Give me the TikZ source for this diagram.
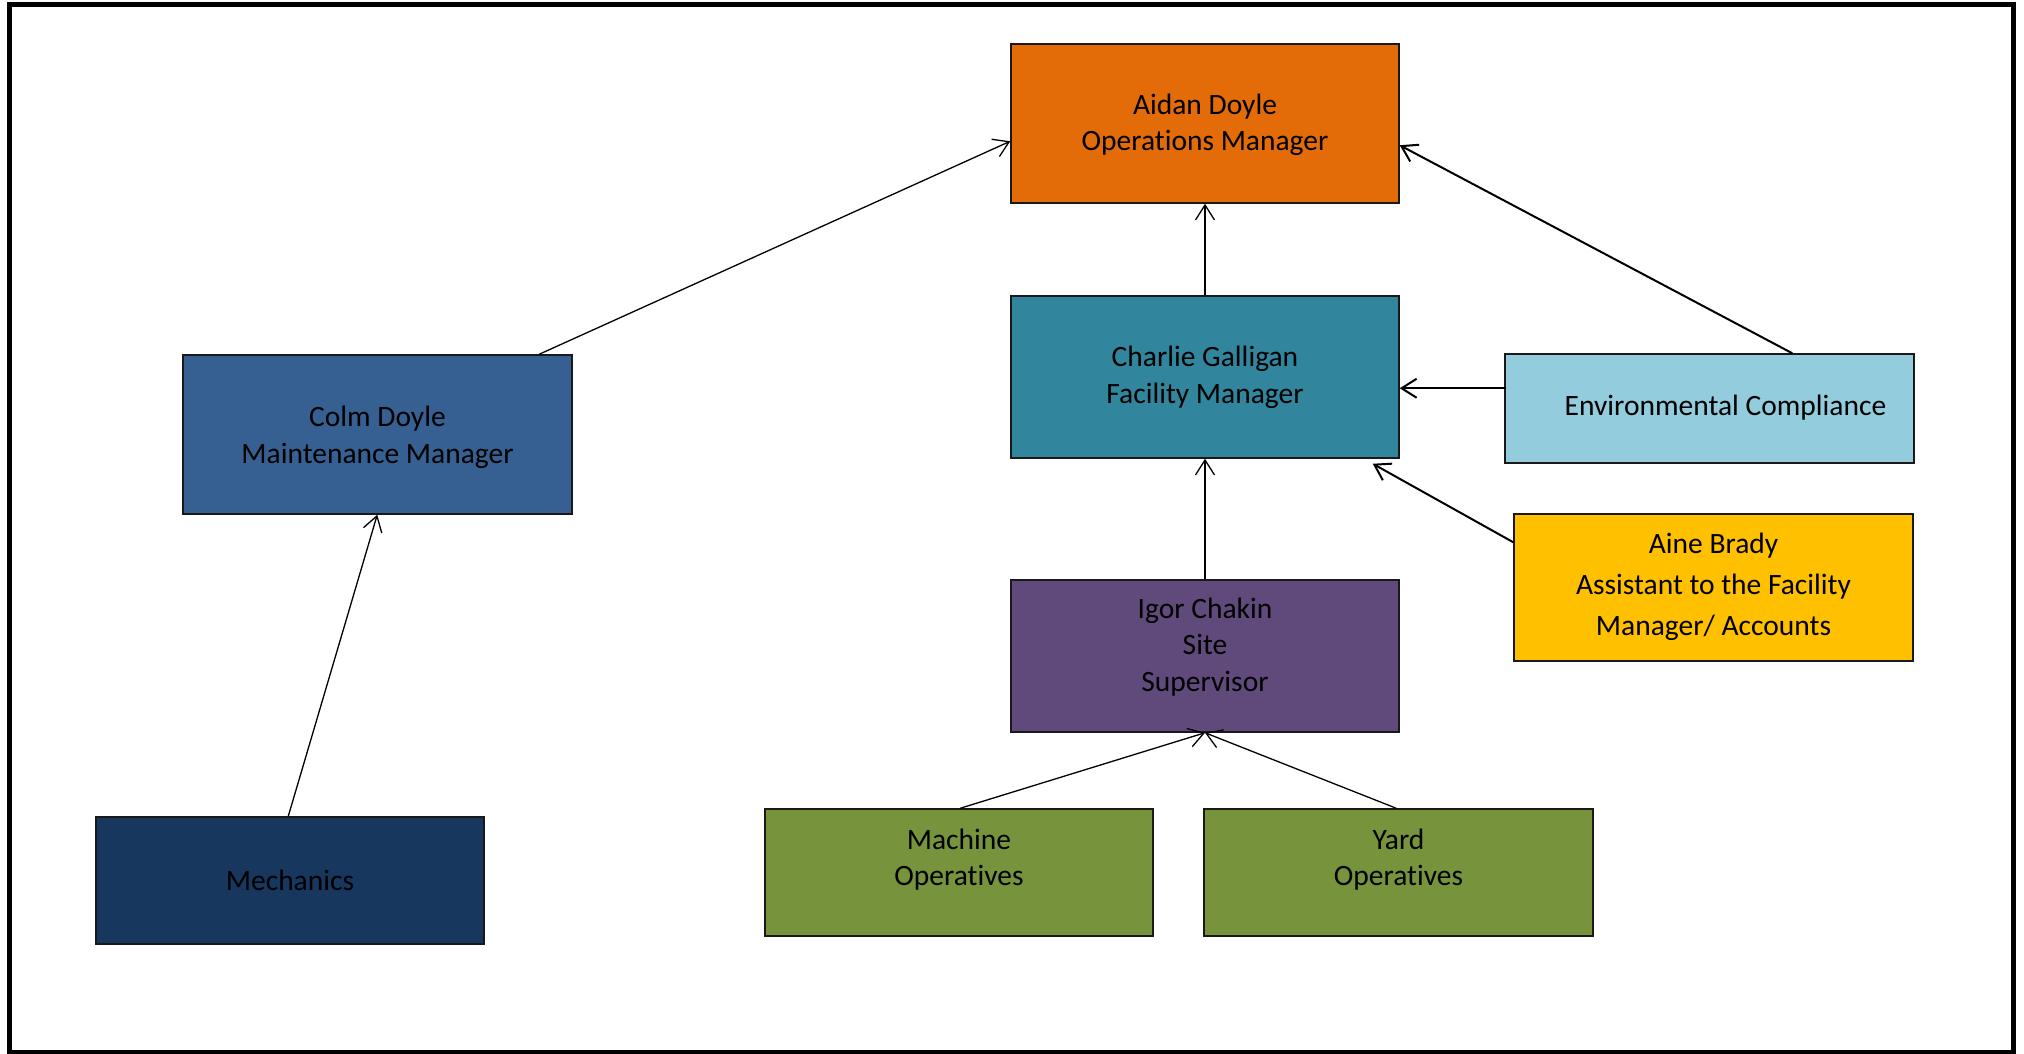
\documentclass[tikz,border=0pt]{standalone}
\usepackage{fontspec}
\setmainfont{Carlito}[Ligatures={NoCommon}]
\usetikzlibrary{arrows.meta,calc}
\definecolor{cOrange}{HTML}{E36C09}
\definecolor{cTeal}{HTML}{31859C}
\definecolor{cLight}{HTML}{93CDDD}
\definecolor{cGold}{HTML}{FFC000}
\definecolor{cPurple}{HTML}{604A7B}
\definecolor{cOlive}{HTML}{77933C}
\definecolor{cBlue}{HTML}{366092}
\definecolor{cNavy}{HTML}{17375E}
\tikzset{
  box/.style={draw=black!90, line width=1.5pt, rectangle, inner sep=0pt},
  txt/.style={align=center, inner sep=0pt, font=\fontsize{29.5}{36.5}\selectfont, text=black},
  link/.style={line width=1.3pt, -{Straight Barb[length=15pt,width=19pt]}},
  tlink/.style={line width=2pt, -{Straight Barb[length=15pt,width=19pt]}},
}
\begin{document}
\begin{tikzpicture}[x=1pt,y=-1pt]
\useasboundingbox (0,0) rectangle (2024,1054);
\draw[line width=5pt] (9,5) rectangle (2013,1052);

\node[box, fill=cOrange, minimum width=388pt, minimum height=159pt] (aidan) at (1205,123.5) {};
\node[box, fill=cTeal, minimum width=388pt, minimum height=162pt] (charlie) at (1205,377) {};
\node[box, fill=cLight, minimum width=409pt, minimum height=109pt] (env) at (1709.5,408.5) {};
\node[box, fill=cGold, minimum width=399pt, minimum height=147pt] (aine) at (1713.5,587.5) {};
\node[box, fill=cPurple, minimum width=388pt, minimum height=152pt] (igor) at (1205,656) {};
\node[box, fill=cOlive, minimum width=388pt, minimum height=127pt] (machine) at (959,872.5) {};
\node[box, fill=cOlive, minimum width=389pt, minimum height=127pt] (yard) at (1398.5,872.5) {};
\node[box, fill=cBlue, minimum width=389pt, minimum height=159pt] (colm) at (377.5,434.5) {};
\node[box, fill=cNavy, minimum width=388pt, minimum height=127pt] (mech) at (290,880.5) {};

\node[txt] (aidanT) at ($(aidan.center)+(0,1.5)$) {Aidan Doyle\\Operations Manager};
\node[txt] (charlieT) at ($(charlie.center)+(0,0.5)$) {Charlie Galligan\\Facility Manager};
\node[txt] (envT) at ($(env.center)+(16,-1)$) {Environmental Compliance};
\node[txt, font=\fontsize{29.5}{41}\selectfont] (aineT) at ($(aine.center)+(0,-1)$) {Aine Brady\\Assistant to the Facility\\Manager/ Accounts};
\node[txt] (igorT) at ($(igor.center)+(0,-9)$) {Igor Chakin\\Site\\Supervisor};
\node[txt] (machineT) at ($(machine.center)+(0,-13)$) {Machine\\Operatives};
\node[txt] (yardT) at ($(yard.center)+(0,-13)$) {Yard\\Operatives};
\node[txt] (colmT) at ($(colm.center)+(0,3)$) {Colm Doyle\\Maintenance Manager};
\node[txt] (mechT) at (mech.center) {Mechanics};

\coordinate (colmTop) at ($(colm.north west)+(357,0)$);
\coordinate (aidanL) at ($(aidan.north west)+(0,98)$);
\coordinate (envTop) at ($(env.north west)+(288,0)$);
\coordinate (aidanR) at ($(aidan.north east)+(0,102)$);
\coordinate (envL) at ($(env.north west)+(2,35)$);
\coordinate (aineL) at ($(aine.north west)+(0,29)$);
\coordinate (charlieBR) at ($(charlie.south east)+(-27,5)$);
\coordinate (mechTop) at ($(mech.north west)+(193,0)$);
\coordinate (colmBot) at ($(colm.south west)+(195,0)$);
\coordinate (machTop) at ($(machine.north west)+(196,0)$);
\coordinate (yardTop) at ($(yard.north west)+(193,0)$);

\draw[link] (colmTop) -- (aidanL);
\draw[link] (charlie.north) -- (aidan.south);
\draw[tlink] (envTop) -- (aidanR);
\draw[tlink] (envL) -- (envL -| charlie.east);
\draw[tlink] (aineL) -- (charlieBR);
\draw[link] (igor.north) -- (charlie.south);
\draw[link] (mechTop) -- (colmBot);
\draw[link] (machTop) -- (igor.south);
\draw[link] (yardTop) -- (igor.south);
\end{tikzpicture}
\end{document}
